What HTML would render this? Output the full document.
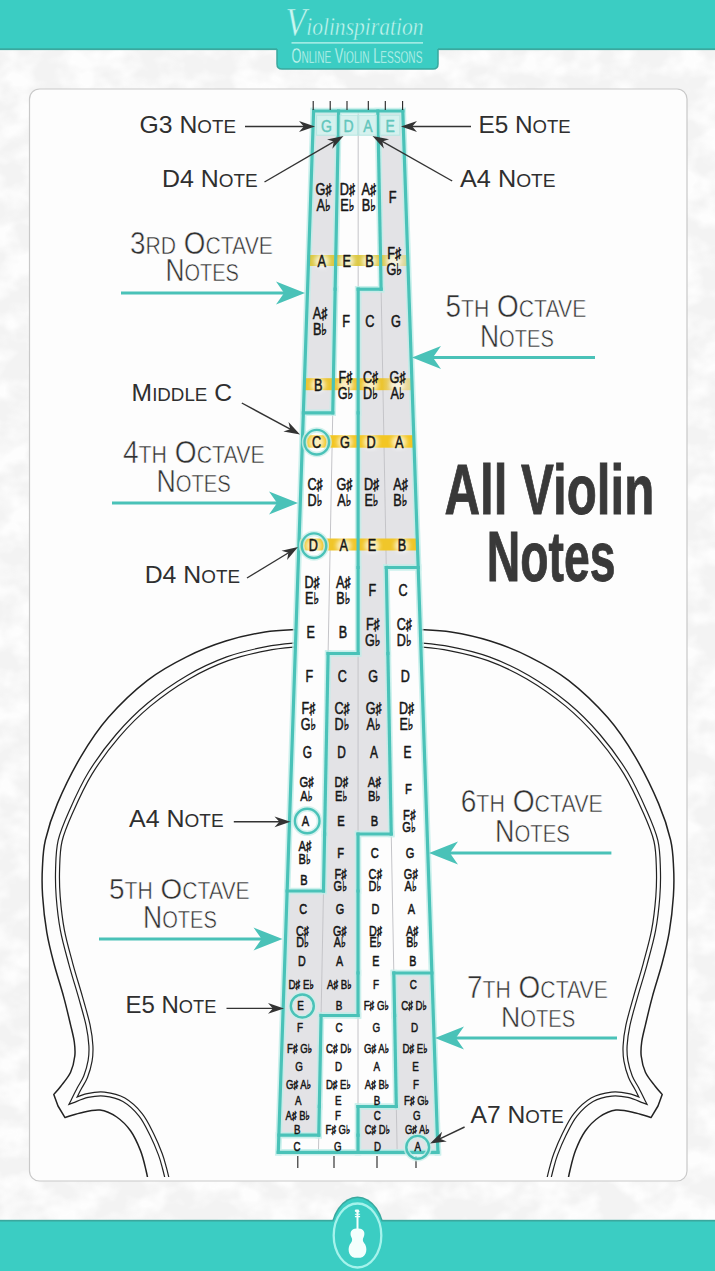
<!DOCTYPE html><html><head><meta charset="utf-8"><title>All Violin Notes</title><style>html,body{margin:0;padding:0;background:#f1f1f1}svg{display:block}</style></head><body><svg width="715" height="1271" viewBox="0 0 715 1271" font-family="'Liberation Sans', 'DejaVu Sans', sans-serif">
<defs><filter id="soft" x="-5%" y="-5%" width="110%" height="110%"><feGaussianBlur stdDeviation="0.45"/></filter><filter id="blur3" x="-20%" y="-20%" width="140%" height="140%"><feGaussianBlur stdDeviation="2.2"/></filter></defs>
<defs><clipPath id="cardclip"><rect x="30" y="89" width="655" height="1088"/></clipPath></defs>
<rect width="715" height="1271" fill="#f3f3f3"/>
<filter id="bgp" x="0" y="0" width="100%" height="100%"><feTurbulence type="fractalNoise" baseFrequency="0.03 0.04" numOctaves="3" seed="7"/><feColorMatrix values="0 0 0 0 1  0 0 0 0 1  0 0 0 0 1  0 0 0 3.0 -1.15"/></filter>
<rect width="715" height="1271" filter="url(#bgp)" opacity="0.9"/>
<rect x="29.5" y="89" width="657.5" height="1092" rx="10" ry="10" fill="#fdfdfd" stroke="#c9c9c9" stroke-width="1.2"/>
<rect x="0" y="0" width="715" height="49.8" fill="#3bcdc3"/>
<rect x="0" y="48.3" width="715" height="1.8" fill="#3aa89e"/>
<path d="M277 40 H438 V64 Q438 69 433 69 H282 Q277 69 277 64 Z" fill="#3bcdc3"/>
<path d="M277 49 V64 Q277 69 282 69 H433 Q438 69 438 64 V49" fill="none" stroke="#3aa89e" stroke-width="1.5"/>
<text transform="translate(285.5,35.3) scale(0.8451,1)" font-family="'Liberation Serif', 'DejaVu Serif', serif" font-style="italic" fill="#c9f7f1" stroke="#3bcdc3" stroke-width="0.5"><tspan font-size="40">V</tspan><tspan font-size="25.5">iolinspiration</tspan></text>
<rect x="291.5" y="42.3" width="131.5" height="1.2" fill="#c9f7f1"/>
<text transform="translate(291.5,62.6) scale(0.6020,1)" fill="#c9f7f1" stroke="#3bcdc3" stroke-width="0.35"><tspan font-size="21.16">O</tspan><tspan font-size="16.81">NLINE</tspan><tspan font-size="21.16"> V</tspan><tspan font-size="16.81">IOLIN</tspan><tspan font-size="21.16"> L</tspan><tspan font-size="16.81">ESSONS</tspan></text>
<ellipse cx="357.5" cy="1236" rx="27.5" ry="39.5" fill="#3aa89e"/>
<rect x="0" y="1220.6" width="715" height="51" fill="#3bcdc3"/>
<rect x="0" y="1219.8" width="715" height="1.7" fill="#3aa89e"/>
<ellipse cx="357.5" cy="1236" rx="26" ry="38" fill="#3bcdc3"/>
<ellipse cx="357.5" cy="1235.5" rx="23.8" ry="32" fill="none" stroke="#a5f3ec" stroke-width="2.3"/>
<path d="M356.5 1209.5 Q354.3 1209.0 354.9 1211.6 L356.5 1212.4 L356.5 1228.5 C351.0 1228.5 349.5 1233.0 351.3 1237.0 C352.5 1239.0 352.5 1241.0 350.9 1243.0 C347.0 1247.5 348.0 1256.5 354.5 1257.8 L360.5 1257.8 C367.0 1256.5 368.0 1247.5 364.1 1243.0 C362.5 1241.0 362.5 1239.0 363.7 1237.0 C365.5 1233.0 364.0 1228.5 358.5 1228.5 L358.5 1212.4 L359.7 1211.8 L358.5 1209.5 Z" fill="#f4fffd"/>
<path d="M354.9 1214.2 h5.2 M354.9 1216.6 h5.2" stroke="#f4fffd" stroke-width="1.1"/>
<g clip-path="url(#cardclip)">
<path d="M297.0 629.4 C291.7 629.8 276.9 630.1 265.0 632.0 C253.1 633.9 238.9 636.9 225.8 641.0 C212.7 645.1 199.7 650.2 186.6 656.8 C173.5 663.3 160.6 670.2 147.5 680.3 C134.4 690.4 119.4 704.8 108.3 717.5 C97.2 730.2 89.4 742.2 80.9 756.6 C72.4 771.0 63.3 789.7 57.4 803.6 C51.5 817.5 47.9 829.3 45.4 840.0 C42.9 850.7 42.9 858.7 42.4 868.0 C41.9 877.3 41.9 885.3 42.6 896.0 C43.3 906.7 44.9 921.1 46.8 932.3 C48.7 943.5 51.0 952.3 53.8 963.0 C56.6 973.7 60.8 986.3 63.6 996.6 C66.4 1006.9 68.7 1017.0 70.5 1024.6 C72.3 1032.2 73.6 1036.8 74.3 1042.0 C75.0 1047.2 75.4 1051.0 74.8 1056.0 C74.2 1061.0 72.9 1067.2 70.6 1072.3 C68.3 1077.3 63.6 1082.6 60.8 1086.3 C58.0 1090.0 55.0 1093.1 53.8 1094.5 L58.0 1106.0 L65.0 1117.6 L65.0 1117.6 C67.5 1116.8 74.5 1114.2 80.3 1112.9 C86.1 1111.6 93.9 1109.3 100.0 1110.0 C106.1 1110.7 111.6 1113.5 116.7 1117.0 C121.8 1120.5 126.7 1125.4 130.7 1131.0 C134.7 1136.6 137.9 1144.1 140.5 1150.6 C143.1 1157.1 144.8 1165.3 146.0 1170.2 C147.2 1175.1 147.7 1178.4 148.0 1180.0" fill="none" stroke="#222" stroke-width="1.5" stroke-linejoin="round"/><g transform="translate(1.6,0.8)"><path d="M297.0 643.9 C291.7 644.5 276.9 645.4 265.0 647.8 C253.1 650.1 238.9 653.2 225.8 658.0 C212.7 662.8 199.7 668.8 186.6 676.4 C173.5 684.0 159.3 694.0 147.5 703.8 C135.7 713.6 125.8 723.6 116.0 735.0 C106.2 746.4 96.5 759.6 88.7 772.3 C80.9 785.0 74.2 800.1 69.2 811.4 C64.2 822.7 60.7 830.6 58.5 840.0 C56.3 849.4 56.3 858.7 56.0 868.0 C55.7 877.3 55.8 885.8 56.6 896.0 C57.4 906.2 58.7 918.3 60.8 929.5 C62.9 940.7 66.2 951.8 69.2 963.0 C72.2 974.2 76.1 986.3 79.0 996.6 C81.9 1006.9 84.8 1016.5 86.5 1024.6 C88.2 1032.7 89.0 1039.1 89.3 1045.0 C89.6 1050.9 89.4 1054.8 88.5 1060.0 C87.6 1065.2 85.8 1071.4 84.0 1076.0 C82.2 1080.6 79.7 1083.7 77.6 1087.7 C75.5 1091.7 72.4 1098.0 71.4 1100.0 L71.4 1100.0 C73.8 1099.1 80.8 1095.8 86.0 1094.7 C91.2 1093.6 96.7 1092.6 102.7 1093.3 C108.8 1094.0 116.2 1095.5 122.3 1099.0 C128.3 1102.5 134.3 1108.2 139.0 1114.0 C143.7 1119.8 147.0 1127.2 150.3 1133.8 C153.6 1140.4 156.6 1147.8 158.7 1153.4 C160.8 1159.0 161.7 1163.0 162.9 1167.4 C164.1 1171.8 165.5 1177.9 166.0 1180.0" fill="none" stroke="#222" stroke-width="5.2" stroke-linejoin="miter" stroke-miterlimit="8"/><path d="M297.0 643.9 C291.7 644.5 276.9 645.4 265.0 647.8 C253.1 650.1 238.9 653.2 225.8 658.0 C212.7 662.8 199.7 668.8 186.6 676.4 C173.5 684.0 159.3 694.0 147.5 703.8 C135.7 713.6 125.8 723.6 116.0 735.0 C106.2 746.4 96.5 759.6 88.7 772.3 C80.9 785.0 74.2 800.1 69.2 811.4 C64.2 822.7 60.7 830.6 58.5 840.0 C56.3 849.4 56.3 858.7 56.0 868.0 C55.7 877.3 55.8 885.8 56.6 896.0 C57.4 906.2 58.7 918.3 60.8 929.5 C62.9 940.7 66.2 951.8 69.2 963.0 C72.2 974.2 76.1 986.3 79.0 996.6 C81.9 1006.9 84.8 1016.5 86.5 1024.6 C88.2 1032.7 89.0 1039.1 89.3 1045.0 C89.6 1050.9 89.4 1054.8 88.5 1060.0 C87.6 1065.2 85.8 1071.4 84.0 1076.0 C82.2 1080.6 79.7 1083.7 77.6 1087.7 C75.5 1091.7 72.4 1098.0 71.4 1100.0 L71.4 1100.0 C73.8 1099.1 80.8 1095.8 86.0 1094.7 C91.2 1093.6 96.7 1092.6 102.7 1093.3 C108.8 1094.0 116.2 1095.5 122.3 1099.0 C128.3 1102.5 134.3 1108.2 139.0 1114.0 C143.7 1119.8 147.0 1127.2 150.3 1133.8 C153.6 1140.4 156.6 1147.8 158.7 1153.4 C160.8 1159.0 161.7 1163.0 162.9 1167.4 C164.1 1171.8 165.5 1177.9 166.0 1180.0" fill="none" stroke="#fdfdfd" stroke-width="2.8" stroke-linejoin="miter" stroke-miterlimit="8"/></g>
<path d="M419.0 629.4 C424.3 629.8 439.1 630.1 451.0 632.0 C462.9 633.9 477.1 636.9 490.2 641.0 C503.3 645.1 516.4 650.2 529.4 656.8 C542.4 663.3 555.5 670.2 568.5 680.3 C581.5 690.4 596.6 704.8 607.7 717.5 C618.8 730.2 626.6 742.2 635.1 756.6 C643.6 771.0 652.7 789.7 658.6 803.6 C664.5 817.5 668.1 829.3 670.6 840.0 C673.1 850.7 673.1 858.7 673.6 868.0 C674.1 877.3 674.1 885.3 673.4 896.0 C672.7 906.7 671.1 921.1 669.2 932.3 C667.3 943.5 665.0 952.3 662.2 963.0 C659.4 973.7 655.2 986.3 652.4 996.6 C649.6 1006.9 647.3 1017.0 645.5 1024.6 C643.7 1032.2 642.4 1036.8 641.7 1042.0 C641.0 1047.2 640.6 1051.0 641.2 1056.0 C641.8 1061.0 643.1 1067.2 645.4 1072.3 C647.7 1077.3 652.4 1082.6 655.2 1086.3 C658.0 1090.0 661.0 1093.1 662.2 1094.5 L658.0 1106.0 L651.0 1117.6 L651.0 1117.6 C648.5 1116.8 641.5 1114.2 635.7 1112.9 C629.9 1111.6 622.1 1109.3 616.0 1110.0 C609.9 1110.7 604.4 1113.5 599.3 1117.0 C594.2 1120.5 589.3 1125.4 585.3 1131.0 C581.3 1136.6 578.0 1144.1 575.5 1150.6 C573.0 1157.1 571.2 1165.3 570.0 1170.2 C568.8 1175.1 568.3 1178.4 568.0 1180.0" fill="none" stroke="#222" stroke-width="1.5" stroke-linejoin="round"/><g transform="translate(-1.6,0.8)"><path d="M419.0 643.9 C424.3 644.5 439.1 645.4 451.0 647.8 C462.9 650.1 477.1 653.2 490.2 658.0 C503.3 662.8 516.4 668.8 529.4 676.4 C542.4 684.0 556.7 694.0 568.5 703.8 C580.3 713.6 590.2 723.6 600.0 735.0 C609.8 746.4 619.5 759.6 627.3 772.3 C635.1 785.0 641.8 800.1 646.8 811.4 C651.8 822.7 655.3 830.6 657.5 840.0 C659.7 849.4 659.7 858.7 660.0 868.0 C660.3 877.3 660.2 885.8 659.4 896.0 C658.6 906.2 657.3 918.3 655.2 929.5 C653.1 940.7 649.8 951.8 646.8 963.0 C643.8 974.2 639.9 986.3 637.0 996.6 C634.1 1006.9 631.2 1016.5 629.5 1024.6 C627.8 1032.7 627.0 1039.1 626.7 1045.0 C626.4 1050.9 626.6 1054.8 627.5 1060.0 C628.4 1065.2 630.2 1071.4 632.0 1076.0 C633.8 1080.6 636.3 1083.7 638.4 1087.7 C640.5 1091.7 643.6 1098.0 644.6 1100.0 L644.6 1100.0 C642.2 1099.1 635.2 1095.8 630.0 1094.7 C624.8 1093.6 619.3 1092.6 613.3 1093.3 C607.2 1094.0 599.8 1095.5 593.7 1099.0 C587.7 1102.5 581.7 1108.2 577.0 1114.0 C572.3 1119.8 569.0 1127.2 565.7 1133.8 C562.4 1140.4 559.4 1147.8 557.3 1153.4 C555.2 1159.0 554.3 1163.0 553.1 1167.4 C551.9 1171.8 550.5 1177.9 550.0 1180.0" fill="none" stroke="#222" stroke-width="5.2" stroke-linejoin="miter" stroke-miterlimit="8"/><path d="M419.0 643.9 C424.3 644.5 439.1 645.4 451.0 647.8 C462.9 650.1 477.1 653.2 490.2 658.0 C503.3 662.8 516.4 668.8 529.4 676.4 C542.4 684.0 556.7 694.0 568.5 703.8 C580.3 713.6 590.2 723.6 600.0 735.0 C609.8 746.4 619.5 759.6 627.3 772.3 C635.1 785.0 641.8 800.1 646.8 811.4 C651.8 822.7 655.3 830.6 657.5 840.0 C659.7 849.4 659.7 858.7 660.0 868.0 C660.3 877.3 660.2 885.8 659.4 896.0 C658.6 906.2 657.3 918.3 655.2 929.5 C653.1 940.7 649.8 951.8 646.8 963.0 C643.8 974.2 639.9 986.3 637.0 996.6 C634.1 1006.9 631.2 1016.5 629.5 1024.6 C627.8 1032.7 627.0 1039.1 626.7 1045.0 C626.4 1050.9 626.6 1054.8 627.5 1060.0 C628.4 1065.2 630.2 1071.4 632.0 1076.0 C633.8 1080.6 636.3 1083.7 638.4 1087.7 C640.5 1091.7 643.6 1098.0 644.6 1100.0 L644.6 1100.0 C642.2 1099.1 635.2 1095.8 630.0 1094.7 C624.8 1093.6 619.3 1092.6 613.3 1093.3 C607.2 1094.0 599.8 1095.5 593.7 1099.0 C587.7 1102.5 581.7 1108.2 577.0 1114.0 C572.3 1119.8 569.0 1127.2 565.7 1133.8 C562.4 1140.4 559.4 1147.8 557.3 1153.4 C555.2 1159.0 554.3 1163.0 553.1 1167.4 C551.9 1171.8 550.5 1177.9 550.0 1180.0" fill="none" stroke="#fdfdfd" stroke-width="2.8" stroke-linejoin="miter" stroke-miterlimit="8"/></g>
</g>
<g><polygon points="313.60,111.00 338.60,111.00 332.76,412.80 303.36,412.80" fill="#e3e3e6"/><polygon points="303.36,412.80 332.76,412.80 323.50,891.00 287.14,891.00" fill="#fdfdfd"/><polygon points="338.60,111.00 358.20,111.00 358.10,653.50 328.10,653.50" fill="#fdfdfd"/><polygon points="358.20,111.00 377.80,111.00 381.11,289.20 358.17,289.20" fill="#fdfdfd"/><polygon points="287.14,891.00 323.50,891.00 318.77,1135.20 278.85,1135.20" fill="#e3e3e6"/><polygon points="328.10,653.50 358.10,653.50 358.03,1015.50 321.09,1015.50" fill="#e3e3e6"/><polygon points="358.17,289.20 381.11,289.20 391.24,834.00 358.06,834.00" fill="#e3e3e6"/><polygon points="377.80,111.00 402.80,111.00 418.20,567.50 386.29,567.50" fill="#e3e3e6"/><polygon points="278.85,1135.20 318.77,1135.20 318.44,1152.30 278.27,1152.30" fill="#fdfdfd"/><polygon points="321.09,1015.50 358.03,1015.50 358.00,1152.30 318.44,1152.30" fill="#fdfdfd"/><polygon points="358.06,834.00 391.24,834.00 396.31,1106.50 358.01,1106.50" fill="#fdfdfd"/><polygon points="386.29,567.50 418.20,567.50 431.88,973.00 393.83,973.00" fill="#fdfdfd"/><polygon points="358.01,1106.50 396.31,1106.50 397.16,1152.30 358.00,1152.30" fill="#e3e3e6"/><polygon points="393.83,973.00 431.88,973.00 437.93,1152.30 397.16,1152.30" fill="#e3e3e6"/><line x1="338.60" y1="111.0" x2="318.44" y2="1152.3" stroke="#c4c4c8" stroke-width="1"/><line x1="358.20" y1="111.0" x2="358.00" y2="1152.3" stroke="#c4c4c8" stroke-width="1"/><line x1="377.80" y1="111.0" x2="397.16" y2="1152.3" stroke="#c4c4c8" stroke-width="1"/><g stroke="#bfeee9" stroke-width="6.5" stroke-linecap="square" opacity="0.8"><line x1="338.60" y1="111.00" x2="335.15" y2="289.20"/><line x1="335.15" y1="289.20" x2="332.76" y2="412.80"/><line x1="328.10" y1="653.50" x2="324.60" y2="834.00"/><line x1="324.60" y1="834.00" x2="323.50" y2="891.00"/><line x1="321.09" y1="1015.50" x2="319.33" y2="1106.50"/><line x1="319.33" y1="1106.50" x2="318.77" y2="1135.20"/><line x1="358.17" y1="289.20" x2="358.14" y2="412.80"/><line x1="358.14" y1="412.80" x2="358.11" y2="567.50"/><line x1="358.11" y1="567.50" x2="358.10" y2="653.50"/><line x1="358.06" y1="834.00" x2="358.05" y2="891.00"/><line x1="358.05" y1="891.00" x2="358.03" y2="973.00"/><line x1="358.03" y1="973.00" x2="358.03" y2="1015.50"/><line x1="358.01" y1="1106.50" x2="358.00" y2="1135.20"/><line x1="358.00" y1="1135.20" x2="358.00" y2="1152.30"/><line x1="377.80" y1="111.00" x2="381.11" y2="289.20"/><line x1="386.29" y1="567.50" x2="387.89" y2="653.50"/><line x1="387.89" y1="653.50" x2="391.24" y2="834.00"/><line x1="393.83" y1="973.00" x2="394.62" y2="1015.50"/><line x1="394.62" y1="1015.50" x2="396.31" y2="1106.50"/><line x1="313.60" y1="111.00" x2="278.27" y2="1152.30"/><line x1="402.80" y1="111.00" x2="437.93" y2="1152.30"/><line x1="313.60" y1="111.00" x2="402.80" y2="111.00"/><line x1="278.27" y1="1152.30" x2="437.93" y2="1152.30"/><line x1="303.36" y1="412.80" x2="332.76" y2="412.80"/><line x1="287.14" y1="891.00" x2="323.50" y2="891.00"/><line x1="328.10" y1="653.50" x2="358.10" y2="653.50"/><line x1="358.17" y1="289.20" x2="381.11" y2="289.20"/><line x1="278.85" y1="1135.20" x2="318.77" y2="1135.20"/><line x1="321.09" y1="1015.50" x2="358.03" y2="1015.50"/><line x1="358.06" y1="834.00" x2="391.24" y2="834.00"/><line x1="386.29" y1="567.50" x2="418.20" y2="567.50"/><line x1="358.01" y1="1106.50" x2="396.31" y2="1106.50"/><line x1="393.83" y1="973.00" x2="431.88" y2="973.00"/></g><linearGradient id="bg2" x1="0" x2="1" y1="0" y2="0"><stop offset="0" stop-color="#dcc843"/><stop offset="0.72" stop-color="#dcc843"/><stop offset="0.8" stop-color="#dcc843" stop-opacity="0.55"/><stop offset="1" stop-color="#dcc843" stop-opacity="0.45"/></linearGradient><rect x="307.5" y="255.0" width="101.3" height="11" fill="url(#bg2)"/><linearGradient id="bg4" x1="0" x2="1" y1="0" y2="0"><stop offset="0" stop-color="#ecc531"/><stop offset="0.72" stop-color="#ecc531"/><stop offset="0.8" stop-color="#ecc531" stop-opacity="0.55"/><stop offset="1" stop-color="#ecc531" stop-opacity="0.45"/></linearGradient><rect x="303.3" y="378.2" width="109.7" height="12" fill="url(#bg4)"/><rect x="301.4" y="435.2" width="113.6" height="12.5" fill="#f3c623"/><rect x="297.9" y="538.5" width="120.5" height="12" fill="#f0c62a"/><g stroke="#4ac2b8" stroke-width="3.2" stroke-linecap="square" opacity="1"><line x1="338.60" y1="111.00" x2="335.15" y2="289.20"/><line x1="335.15" y1="289.20" x2="332.76" y2="412.80"/><line x1="328.10" y1="653.50" x2="324.60" y2="834.00"/><line x1="324.60" y1="834.00" x2="323.50" y2="891.00"/><line x1="321.09" y1="1015.50" x2="319.33" y2="1106.50"/><line x1="319.33" y1="1106.50" x2="318.77" y2="1135.20"/><line x1="358.17" y1="289.20" x2="358.14" y2="412.80"/><line x1="358.14" y1="412.80" x2="358.11" y2="567.50"/><line x1="358.11" y1="567.50" x2="358.10" y2="653.50"/><line x1="358.06" y1="834.00" x2="358.05" y2="891.00"/><line x1="358.05" y1="891.00" x2="358.03" y2="973.00"/><line x1="358.03" y1="973.00" x2="358.03" y2="1015.50"/><line x1="358.01" y1="1106.50" x2="358.00" y2="1135.20"/><line x1="358.00" y1="1135.20" x2="358.00" y2="1152.30"/><line x1="377.80" y1="111.00" x2="381.11" y2="289.20"/><line x1="386.29" y1="567.50" x2="387.89" y2="653.50"/><line x1="387.89" y1="653.50" x2="391.24" y2="834.00"/><line x1="393.83" y1="973.00" x2="394.62" y2="1015.50"/><line x1="394.62" y1="1015.50" x2="396.31" y2="1106.50"/><line x1="313.60" y1="111.00" x2="278.27" y2="1152.30"/><line x1="402.80" y1="111.00" x2="437.93" y2="1152.30"/><line x1="313.60" y1="111.00" x2="402.80" y2="111.00"/><line x1="278.27" y1="1152.30" x2="437.93" y2="1152.30"/><line x1="303.36" y1="412.80" x2="332.76" y2="412.80"/><line x1="287.14" y1="891.00" x2="323.50" y2="891.00"/><line x1="328.10" y1="653.50" x2="358.10" y2="653.50"/><line x1="358.17" y1="289.20" x2="381.11" y2="289.20"/><line x1="278.85" y1="1135.20" x2="318.77" y2="1135.20"/><line x1="321.09" y1="1015.50" x2="358.03" y2="1015.50"/><line x1="358.06" y1="834.00" x2="391.24" y2="834.00"/><line x1="386.29" y1="567.50" x2="418.20" y2="567.50"/><line x1="358.01" y1="1106.50" x2="396.31" y2="1106.50"/><line x1="393.83" y1="973.00" x2="431.88" y2="973.00"/></g></g>
<rect x="316.6" y="115.2" width="19.7" height="20" fill="#d5f1ee" stroke="#b5e6e1" stroke-width="1"/>
<rect x="340.1" y="115.2" width="17.5" height="20" fill="#d5f1ee" stroke="#b5e6e1" stroke-width="1"/>
<rect x="358.8" y="115.2" width="17.5" height="20" fill="#d5f1ee" stroke="#b5e6e1" stroke-width="1"/>
<rect x="380.1" y="115.2" width="19.7" height="20" fill="#d5f1ee" stroke="#b5e6e1" stroke-width="1"/>
<line x1="313.2" y1="101" x2="313.2" y2="110" stroke="#222" stroke-width="1.1"/>
<line x1="330.2" y1="101" x2="330.2" y2="110" stroke="#222" stroke-width="1.1"/>
<line x1="347" y1="101" x2="347" y2="110" stroke="#222" stroke-width="1.1"/>
<line x1="368.3" y1="101" x2="368.3" y2="110" stroke="#222" stroke-width="1.1"/>
<line x1="385.3" y1="101" x2="385.3" y2="110" stroke="#222" stroke-width="1.1"/>
<line x1="402.6" y1="101" x2="402.6" y2="110" stroke="#222" stroke-width="1.1"/>
<line x1="297.8" y1="1156" x2="297.8" y2="1168" stroke="#222" stroke-width="1.1"/>
<line x1="334" y1="1156" x2="334" y2="1168" stroke="#222" stroke-width="1.1"/>
<line x1="377" y1="1156" x2="377" y2="1168" stroke="#222" stroke-width="1.1"/>
<line x1="416" y1="1156" x2="416" y2="1168" stroke="#222" stroke-width="1.1"/>
<g><ellipse cx="321.8" cy="261.3" rx="7.5" ry="7" fill="#fff" opacity="0.7" filter="url(#blur3)"/><ellipse cx="318.2" cy="384.9" rx="7.5" ry="7" fill="#fff" opacity="0.7" filter="url(#blur3)"/><ellipse cx="316.5" cy="442.2" rx="7.5" ry="7" fill="#fff" opacity="0.7" filter="url(#blur3)"/><ellipse cx="313.4" cy="545.7" rx="7.5" ry="7" fill="#fff" opacity="0.7" filter="url(#blur3)"/><ellipse cx="346.8" cy="261.3" rx="7.5" ry="7" fill="#fff" opacity="0.7" filter="url(#blur3)"/><ellipse cx="345.5" cy="384.9" rx="7.5" ry="7" fill="#fff" opacity="0.7" filter="url(#blur3)"/><ellipse cx="344.9" cy="442.2" rx="7.5" ry="7" fill="#fff" opacity="0.7" filter="url(#blur3)"/><ellipse cx="343.8" cy="545.7" rx="7.5" ry="7" fill="#fff" opacity="0.7" filter="url(#blur3)"/><ellipse cx="369.4" cy="261.3" rx="7.5" ry="7" fill="#fff" opacity="0.7" filter="url(#blur3)"/><ellipse cx="370.5" cy="384.9" rx="7.5" ry="7" fill="#fff" opacity="0.7" filter="url(#blur3)"/><ellipse cx="371.0" cy="442.2" rx="7.5" ry="7" fill="#fff" opacity="0.7" filter="url(#blur3)"/><ellipse cx="372.0" cy="545.7" rx="7.5" ry="7" fill="#fff" opacity="0.7" filter="url(#blur3)"/><ellipse cx="394.3" cy="261.3" rx="7.5" ry="7" fill="#fff" opacity="0.7" filter="url(#blur3)"/><ellipse cx="397.6" cy="384.9" rx="7.5" ry="7" fill="#fff" opacity="0.7" filter="url(#blur3)"/><ellipse cx="399.1" cy="442.2" rx="7.5" ry="7" fill="#fff" opacity="0.7" filter="url(#blur3)"/><ellipse cx="401.9" cy="545.7" rx="7.5" ry="7" fill="#fff" opacity="0.7" filter="url(#blur3)"/></g>
<g><text transform="translate(326.33,132.20) scale(0.84,1)" text-anchor="middle" font-size="16.67" fill="#62c6bc" stroke="#62c6bc" stroke-width="0.45" stroke-linejoin="round">G</text><text transform="translate(323.64,195.00) scale(0.76,1)" text-anchor="middle" font-size="16.79" fill="#161616" stroke="#161616" stroke-width="0.55" stroke-linejoin="round">G<tspan font-size="16.11">♯</tspan></text><text transform="translate(323.64,211.18) scale(0.76,1)" text-anchor="middle" font-size="16.79" fill="#161616" stroke="#161616" stroke-width="0.55" stroke-linejoin="round">A<tspan font-size="16.11">♭</tspan></text><text transform="translate(321.78,267.08) scale(0.76,1)" text-anchor="middle" font-size="16.76" fill="#161616" stroke="#161616" stroke-width="0.55" stroke-linejoin="round">A</text><text transform="translate(320.02,319.01) scale(0.76,1)" text-anchor="middle" font-size="16.73" fill="#161616" stroke="#161616" stroke-width="0.55" stroke-linejoin="round">A<tspan font-size="16.06">♯</tspan></text><text transform="translate(320.02,335.13) scale(0.76,1)" text-anchor="middle" font-size="16.73" fill="#161616" stroke="#161616" stroke-width="0.55" stroke-linejoin="round">B<tspan font-size="16.06">♭</tspan></text><text transform="translate(318.16,390.66) scale(0.76,1)" text-anchor="middle" font-size="16.71" fill="#161616" stroke="#161616" stroke-width="0.55" stroke-linejoin="round">B</text><text transform="translate(316.48,447.95) scale(0.76,1)" text-anchor="middle" font-size="16.68" fill="#161616" stroke="#161616" stroke-width="0.55" stroke-linejoin="round">C</text><text transform="translate(314.97,490.33) scale(0.76,1)" text-anchor="middle" font-size="16.65" fill="#161616" stroke="#161616" stroke-width="0.55" stroke-linejoin="round">C<tspan font-size="15.99">♯</tspan></text><text transform="translate(314.97,506.36) scale(0.76,1)" text-anchor="middle" font-size="16.65" fill="#161616" stroke="#161616" stroke-width="0.55" stroke-linejoin="round">D<tspan font-size="15.99">♭</tspan></text><text transform="translate(313.40,551.44) scale(0.76,1)" text-anchor="middle" font-size="16.63" fill="#161616" stroke="#161616" stroke-width="0.55" stroke-linejoin="round">D</text><text transform="translate(312.05,588.24) scale(0.76,1)" text-anchor="middle" font-size="16.60" fill="#161616" stroke="#161616" stroke-width="0.55" stroke-linejoin="round">D<tspan font-size="15.94">♯</tspan></text><text transform="translate(312.05,604.22) scale(0.76,1)" text-anchor="middle" font-size="16.60" fill="#161616" stroke="#161616" stroke-width="0.55" stroke-linejoin="round">E<tspan font-size="15.94">♭</tspan></text><text transform="translate(310.77,638.22) scale(0.76,1)" text-anchor="middle" font-size="16.57" fill="#161616" stroke="#161616" stroke-width="0.55" stroke-linejoin="round">E</text><text transform="translate(309.45,681.51) scale(0.76,1)" text-anchor="middle" font-size="16.55" fill="#161616" stroke="#161616" stroke-width="0.55" stroke-linejoin="round">F</text><text transform="translate(308.38,713.95) scale(0.76,1)" text-anchor="middle" font-size="16.52" fill="#161616" stroke="#161616" stroke-width="0.55" stroke-linejoin="round">F<tspan font-size="15.86">♯</tspan></text><text transform="translate(308.38,729.85) scale(0.76,1)" text-anchor="middle" font-size="16.52" fill="#161616" stroke="#161616" stroke-width="0.55" stroke-linejoin="round">G<tspan font-size="15.86">♭</tspan></text><text transform="translate(307.40,758.10) scale(0.76,1)" text-anchor="middle" font-size="15.65" fill="#161616" stroke="#161616" stroke-width="0.55" stroke-linejoin="round">G</text><text transform="translate(306.44,787.00) scale(0.76,1)" text-anchor="middle" font-size="14.78" fill="#161616" stroke="#161616" stroke-width="0.55" stroke-linejoin="round">G<tspan font-size="14.19">♯</tspan></text><text transform="translate(306.44,800.80) scale(0.76,1)" text-anchor="middle" font-size="14.78" fill="#161616" stroke="#161616" stroke-width="0.55" stroke-linejoin="round">A<tspan font-size="14.19">♭</tspan></text><text transform="translate(305.58,826.07) scale(0.76,1)" text-anchor="middle" font-size="14.69" fill="#161616" stroke="#161616" stroke-width="0.55" stroke-linejoin="round">A</text><text transform="translate(304.75,851.26) scale(0.76,1)" text-anchor="middle" font-size="14.59" fill="#161616" stroke="#161616" stroke-width="0.55" stroke-linejoin="round">A<tspan font-size="14.01">♯</tspan></text><text transform="translate(304.75,863.81) scale(0.76,1)" text-anchor="middle" font-size="14.59" fill="#161616" stroke="#161616" stroke-width="0.55" stroke-linejoin="round">B<tspan font-size="14.01">♭</tspan></text><text transform="translate(304.00,885.30) scale(0.76,1)" text-anchor="middle" font-size="14.49" fill="#161616" stroke="#161616" stroke-width="0.55" stroke-linejoin="round">B</text><text transform="translate(303.24,913.95) scale(0.76,1)" text-anchor="middle" font-size="14.35" fill="#161616" stroke="#161616" stroke-width="0.55" stroke-linejoin="round">C</text><text transform="translate(302.50,935.75) scale(0.76,1)" text-anchor="middle" font-size="14.20" fill="#161616" stroke="#161616" stroke-width="0.55" stroke-linejoin="round">C<tspan font-size="13.63">♯</tspan></text><text transform="translate(302.50,947.45) scale(0.76,1)" text-anchor="middle" font-size="14.20" fill="#161616" stroke="#161616" stroke-width="0.55" stroke-linejoin="round">D<tspan font-size="13.63">♭</tspan></text><text transform="translate(301.84,966.35) scale(0.76,1)" text-anchor="middle" font-size="14.06" fill="#161616" stroke="#161616" stroke-width="0.55" stroke-linejoin="round">D</text><text transform="translate(301.23,989.00) scale(0.7448,1)" text-anchor="middle" font-size="13.04" fill="#161616" stroke="#161616" stroke-width="0.55" stroke-linejoin="round">D<tspan font-size="12.52">♯</tspan> E<tspan font-size="12.52">♭</tspan></text><text transform="translate(300.66,1010.49) scale(0.76,1)" text-anchor="middle" font-size="13.01" fill="#161616" stroke="#161616" stroke-width="0.55" stroke-linejoin="round">E</text><text transform="translate(300.07,1032.48) scale(0.76,1)" text-anchor="middle" font-size="12.98" fill="#161616" stroke="#161616" stroke-width="0.55" stroke-linejoin="round">F</text><text transform="translate(299.52,1053.27) scale(0.7448,1)" text-anchor="middle" font-size="12.95" fill="#161616" stroke="#161616" stroke-width="0.55" stroke-linejoin="round">F<tspan font-size="12.43">♯</tspan> G<tspan font-size="12.43">♭</tspan></text><text transform="translate(299.03,1071.46) scale(0.76,1)" text-anchor="middle" font-size="12.91" fill="#161616" stroke="#161616" stroke-width="0.55" stroke-linejoin="round">G</text><text transform="translate(298.56,1089.14) scale(0.7448,1)" text-anchor="middle" font-size="12.88" fill="#161616" stroke="#161616" stroke-width="0.55" stroke-linejoin="round">G<tspan font-size="12.37">♯</tspan> A<tspan font-size="12.37">♭</tspan></text><text transform="translate(298.14,1104.83) scale(0.76,1)" text-anchor="middle" font-size="12.85" fill="#161616" stroke="#161616" stroke-width="0.55" stroke-linejoin="round">A</text><text transform="translate(297.74,1119.92) scale(0.7448,1)" text-anchor="middle" font-size="12.82" fill="#161616" stroke="#161616" stroke-width="0.55" stroke-linejoin="round">A<tspan font-size="12.31">♯</tspan> B<tspan font-size="12.31">♭</tspan></text><text transform="translate(297.35,1134.41) scale(0.76,1)" text-anchor="middle" font-size="12.79" fill="#161616" stroke="#161616" stroke-width="0.55" stroke-linejoin="round">B</text><text transform="translate(296.91,1151.10) scale(0.76,1)" text-anchor="middle" font-size="12.75" fill="#161616" stroke="#161616" stroke-width="0.55" stroke-linejoin="round">C</text><text transform="translate(348.56,132.20) scale(0.84,1)" text-anchor="middle" font-size="16.67" fill="#62c6bc" stroke="#62c6bc" stroke-width="0.45" stroke-linejoin="round">D</text><text transform="translate(347.51,195.00) scale(0.76,1)" text-anchor="middle" font-size="16.79" fill="#161616" stroke="#161616" stroke-width="0.55" stroke-linejoin="round">D<tspan font-size="16.11">♯</tspan></text><text transform="translate(347.51,211.18) scale(0.76,1)" text-anchor="middle" font-size="16.79" fill="#161616" stroke="#161616" stroke-width="0.55" stroke-linejoin="round">E<tspan font-size="16.11">♭</tspan></text><text transform="translate(346.83,267.08) scale(0.76,1)" text-anchor="middle" font-size="16.76" fill="#161616" stroke="#161616" stroke-width="0.55" stroke-linejoin="round">E</text><text transform="translate(346.19,327.07) scale(0.76,1)" text-anchor="middle" font-size="16.73" fill="#161616" stroke="#161616" stroke-width="0.55" stroke-linejoin="round">F</text><text transform="translate(345.52,382.62) scale(0.76,1)" text-anchor="middle" font-size="16.71" fill="#161616" stroke="#161616" stroke-width="0.55" stroke-linejoin="round">F<tspan font-size="16.04">♯</tspan></text><text transform="translate(345.52,398.71) scale(0.76,1)" text-anchor="middle" font-size="16.71" fill="#161616" stroke="#161616" stroke-width="0.55" stroke-linejoin="round">G<tspan font-size="16.04">♭</tspan></text><text transform="translate(344.91,447.95) scale(0.76,1)" text-anchor="middle" font-size="16.68" fill="#161616" stroke="#161616" stroke-width="0.55" stroke-linejoin="round">G</text><text transform="translate(344.37,490.33) scale(0.76,1)" text-anchor="middle" font-size="16.65" fill="#161616" stroke="#161616" stroke-width="0.55" stroke-linejoin="round">G<tspan font-size="15.99">♯</tspan></text><text transform="translate(344.37,506.36) scale(0.76,1)" text-anchor="middle" font-size="16.65" fill="#161616" stroke="#161616" stroke-width="0.55" stroke-linejoin="round">A<tspan font-size="15.99">♭</tspan></text><text transform="translate(343.80,551.44) scale(0.76,1)" text-anchor="middle" font-size="16.63" fill="#161616" stroke="#161616" stroke-width="0.55" stroke-linejoin="round">A</text><text transform="translate(343.31,588.24) scale(0.76,1)" text-anchor="middle" font-size="16.60" fill="#161616" stroke="#161616" stroke-width="0.55" stroke-linejoin="round">A<tspan font-size="15.94">♯</tspan></text><text transform="translate(343.31,604.22) scale(0.76,1)" text-anchor="middle" font-size="16.60" fill="#161616" stroke="#161616" stroke-width="0.55" stroke-linejoin="round">B<tspan font-size="15.94">♭</tspan></text><text transform="translate(342.85,638.22) scale(0.76,1)" text-anchor="middle" font-size="16.57" fill="#161616" stroke="#161616" stroke-width="0.55" stroke-linejoin="round">B</text><text transform="translate(342.38,681.51) scale(0.76,1)" text-anchor="middle" font-size="16.55" fill="#161616" stroke="#161616" stroke-width="0.55" stroke-linejoin="round">C</text><text transform="translate(341.98,713.95) scale(0.76,1)" text-anchor="middle" font-size="16.52" fill="#161616" stroke="#161616" stroke-width="0.55" stroke-linejoin="round">C<tspan font-size="15.86">♯</tspan></text><text transform="translate(341.98,729.85) scale(0.76,1)" text-anchor="middle" font-size="16.52" fill="#161616" stroke="#161616" stroke-width="0.55" stroke-linejoin="round">D<tspan font-size="15.86">♭</tspan></text><text transform="translate(341.63,758.10) scale(0.76,1)" text-anchor="middle" font-size="15.65" fill="#161616" stroke="#161616" stroke-width="0.55" stroke-linejoin="round">D</text><text transform="translate(341.27,787.00) scale(0.76,1)" text-anchor="middle" font-size="14.78" fill="#161616" stroke="#161616" stroke-width="0.55" stroke-linejoin="round">D<tspan font-size="14.19">♯</tspan></text><text transform="translate(341.27,800.80) scale(0.76,1)" text-anchor="middle" font-size="14.78" fill="#161616" stroke="#161616" stroke-width="0.55" stroke-linejoin="round">E<tspan font-size="14.19">♭</tspan></text><text transform="translate(340.96,826.07) scale(0.76,1)" text-anchor="middle" font-size="14.69" fill="#161616" stroke="#161616" stroke-width="0.55" stroke-linejoin="round">E</text><text transform="translate(340.65,857.53) scale(0.76,1)" text-anchor="middle" font-size="14.59" fill="#161616" stroke="#161616" stroke-width="0.55" stroke-linejoin="round">F</text><text transform="translate(340.38,879.15) scale(0.76,1)" text-anchor="middle" font-size="14.49" fill="#161616" stroke="#161616" stroke-width="0.55" stroke-linejoin="round">F<tspan font-size="13.91">♯</tspan></text><text transform="translate(340.38,891.45) scale(0.76,1)" text-anchor="middle" font-size="14.49" fill="#161616" stroke="#161616" stroke-width="0.55" stroke-linejoin="round">G<tspan font-size="13.91">♭</tspan></text><text transform="translate(340.10,913.95) scale(0.76,1)" text-anchor="middle" font-size="14.35" fill="#161616" stroke="#161616" stroke-width="0.55" stroke-linejoin="round">G</text><text transform="translate(339.83,935.75) scale(0.76,1)" text-anchor="middle" font-size="14.20" fill="#161616" stroke="#161616" stroke-width="0.55" stroke-linejoin="round">G<tspan font-size="13.63">♯</tspan></text><text transform="translate(339.83,947.45) scale(0.76,1)" text-anchor="middle" font-size="14.20" fill="#161616" stroke="#161616" stroke-width="0.55" stroke-linejoin="round">A<tspan font-size="13.63">♭</tspan></text><text transform="translate(339.59,966.35) scale(0.76,1)" text-anchor="middle" font-size="14.06" fill="#161616" stroke="#161616" stroke-width="0.55" stroke-linejoin="round">A</text><text transform="translate(339.36,989.00) scale(0.7448,1)" text-anchor="middle" font-size="13.04" fill="#161616" stroke="#161616" stroke-width="0.55" stroke-linejoin="round">A<tspan font-size="12.52">♯</tspan> B<tspan font-size="12.52">♭</tspan></text><text transform="translate(339.15,1010.49) scale(0.76,1)" text-anchor="middle" font-size="13.01" fill="#161616" stroke="#161616" stroke-width="0.55" stroke-linejoin="round">B</text><text transform="translate(338.94,1032.48) scale(0.76,1)" text-anchor="middle" font-size="12.98" fill="#161616" stroke="#161616" stroke-width="0.55" stroke-linejoin="round">C</text><text transform="translate(338.73,1053.27) scale(0.7448,1)" text-anchor="middle" font-size="12.95" fill="#161616" stroke="#161616" stroke-width="0.55" stroke-linejoin="round">C<tspan font-size="12.43">♯</tspan> D<tspan font-size="12.43">♭</tspan></text><text transform="translate(338.56,1071.46) scale(0.76,1)" text-anchor="middle" font-size="12.91" fill="#161616" stroke="#161616" stroke-width="0.55" stroke-linejoin="round">D</text><text transform="translate(338.38,1089.14) scale(0.7448,1)" text-anchor="middle" font-size="12.88" fill="#161616" stroke="#161616" stroke-width="0.55" stroke-linejoin="round">D<tspan font-size="12.37">♯</tspan> E<tspan font-size="12.37">♭</tspan></text><text transform="translate(338.23,1104.83) scale(0.76,1)" text-anchor="middle" font-size="12.85" fill="#161616" stroke="#161616" stroke-width="0.55" stroke-linejoin="round">E</text><text transform="translate(338.08,1119.92) scale(0.76,1)" text-anchor="middle" font-size="12.82" fill="#161616" stroke="#161616" stroke-width="0.55" stroke-linejoin="round">F</text><text transform="translate(337.94,1134.41) scale(0.7448,1)" text-anchor="middle" font-size="12.79" fill="#161616" stroke="#161616" stroke-width="0.55" stroke-linejoin="round">F<tspan font-size="12.27">♯</tspan> G<tspan font-size="12.27">♭</tspan></text><text transform="translate(337.78,1151.10) scale(0.76,1)" text-anchor="middle" font-size="12.75" fill="#161616" stroke="#161616" stroke-width="0.55" stroke-linejoin="round">G</text><text transform="translate(367.83,132.20) scale(0.84,1)" text-anchor="middle" font-size="16.67" fill="#62c6bc" stroke="#62c6bc" stroke-width="0.45" stroke-linejoin="round">A</text><text transform="translate(368.79,195.00) scale(0.76,1)" text-anchor="middle" font-size="16.79" fill="#161616" stroke="#161616" stroke-width="0.55" stroke-linejoin="round">A<tspan font-size="16.11">♯</tspan></text><text transform="translate(368.79,211.18) scale(0.76,1)" text-anchor="middle" font-size="16.79" fill="#161616" stroke="#161616" stroke-width="0.55" stroke-linejoin="round">B<tspan font-size="16.11">♭</tspan></text><text transform="translate(369.38,267.08) scale(0.76,1)" text-anchor="middle" font-size="16.76" fill="#161616" stroke="#161616" stroke-width="0.55" stroke-linejoin="round">B</text><text transform="translate(369.93,327.07) scale(0.76,1)" text-anchor="middle" font-size="16.73" fill="#161616" stroke="#161616" stroke-width="0.55" stroke-linejoin="round">C</text><text transform="translate(370.52,382.62) scale(0.76,1)" text-anchor="middle" font-size="16.71" fill="#161616" stroke="#161616" stroke-width="0.55" stroke-linejoin="round">C<tspan font-size="16.04">♯</tspan></text><text transform="translate(370.52,398.71) scale(0.76,1)" text-anchor="middle" font-size="16.71" fill="#161616" stroke="#161616" stroke-width="0.55" stroke-linejoin="round">D<tspan font-size="16.04">♭</tspan></text><text transform="translate(371.05,447.95) scale(0.76,1)" text-anchor="middle" font-size="16.68" fill="#161616" stroke="#161616" stroke-width="0.55" stroke-linejoin="round">D</text><text transform="translate(371.51,490.33) scale(0.76,1)" text-anchor="middle" font-size="16.65" fill="#161616" stroke="#161616" stroke-width="0.55" stroke-linejoin="round">D<tspan font-size="15.99">♯</tspan></text><text transform="translate(371.51,506.36) scale(0.76,1)" text-anchor="middle" font-size="16.65" fill="#161616" stroke="#161616" stroke-width="0.55" stroke-linejoin="round">E<tspan font-size="15.99">♭</tspan></text><text transform="translate(372.00,551.44) scale(0.76,1)" text-anchor="middle" font-size="16.63" fill="#161616" stroke="#161616" stroke-width="0.55" stroke-linejoin="round">E</text><text transform="translate(372.41,596.23) scale(0.76,1)" text-anchor="middle" font-size="16.60" fill="#161616" stroke="#161616" stroke-width="0.55" stroke-linejoin="round">F</text><text transform="translate(372.80,630.24) scale(0.76,1)" text-anchor="middle" font-size="16.57" fill="#161616" stroke="#161616" stroke-width="0.55" stroke-linejoin="round">F<tspan font-size="15.91">♯</tspan></text><text transform="translate(372.80,646.20) scale(0.76,1)" text-anchor="middle" font-size="16.57" fill="#161616" stroke="#161616" stroke-width="0.55" stroke-linejoin="round">G<tspan font-size="15.91">♭</tspan></text><text transform="translate(373.20,681.51) scale(0.76,1)" text-anchor="middle" font-size="16.55" fill="#161616" stroke="#161616" stroke-width="0.55" stroke-linejoin="round">G</text><text transform="translate(373.57,713.95) scale(0.76,1)" text-anchor="middle" font-size="16.52" fill="#161616" stroke="#161616" stroke-width="0.55" stroke-linejoin="round">G<tspan font-size="15.86">♯</tspan></text><text transform="translate(373.57,729.85) scale(0.76,1)" text-anchor="middle" font-size="16.52" fill="#161616" stroke="#161616" stroke-width="0.55" stroke-linejoin="round">A<tspan font-size="15.86">♭</tspan></text><text transform="translate(373.90,758.10) scale(0.76,1)" text-anchor="middle" font-size="15.65" fill="#161616" stroke="#161616" stroke-width="0.55" stroke-linejoin="round">A</text><text transform="translate(374.24,787.00) scale(0.76,1)" text-anchor="middle" font-size="14.78" fill="#161616" stroke="#161616" stroke-width="0.55" stroke-linejoin="round">A<tspan font-size="14.19">♯</tspan></text><text transform="translate(374.24,800.80) scale(0.76,1)" text-anchor="middle" font-size="14.78" fill="#161616" stroke="#161616" stroke-width="0.55" stroke-linejoin="round">B<tspan font-size="14.19">♭</tspan></text><text transform="translate(374.53,826.07) scale(0.76,1)" text-anchor="middle" font-size="14.69" fill="#161616" stroke="#161616" stroke-width="0.55" stroke-linejoin="round">B</text><text transform="translate(374.82,857.53) scale(0.76,1)" text-anchor="middle" font-size="14.59" fill="#161616" stroke="#161616" stroke-width="0.55" stroke-linejoin="round">C</text><text transform="translate(375.08,879.15) scale(0.76,1)" text-anchor="middle" font-size="14.49" fill="#161616" stroke="#161616" stroke-width="0.55" stroke-linejoin="round">C<tspan font-size="13.91">♯</tspan></text><text transform="translate(375.08,891.45) scale(0.76,1)" text-anchor="middle" font-size="14.49" fill="#161616" stroke="#161616" stroke-width="0.55" stroke-linejoin="round">D<tspan font-size="13.91">♭</tspan></text><text transform="translate(375.34,913.95) scale(0.76,1)" text-anchor="middle" font-size="14.35" fill="#161616" stroke="#161616" stroke-width="0.55" stroke-linejoin="round">D</text><text transform="translate(375.60,935.75) scale(0.76,1)" text-anchor="middle" font-size="14.20" fill="#161616" stroke="#161616" stroke-width="0.55" stroke-linejoin="round">D<tspan font-size="13.63">♯</tspan></text><text transform="translate(375.60,947.45) scale(0.76,1)" text-anchor="middle" font-size="14.20" fill="#161616" stroke="#161616" stroke-width="0.55" stroke-linejoin="round">E<tspan font-size="13.63">♭</tspan></text><text transform="translate(375.82,966.35) scale(0.76,1)" text-anchor="middle" font-size="14.06" fill="#161616" stroke="#161616" stroke-width="0.55" stroke-linejoin="round">E</text><text transform="translate(376.04,989.00) scale(0.76,1)" text-anchor="middle" font-size="13.04" fill="#161616" stroke="#161616" stroke-width="0.55" stroke-linejoin="round">F</text><text transform="translate(376.23,1010.49) scale(0.7448,1)" text-anchor="middle" font-size="13.01" fill="#161616" stroke="#161616" stroke-width="0.55" stroke-linejoin="round">F<tspan font-size="12.49">♯</tspan> G<tspan font-size="12.49">♭</tspan></text><text transform="translate(376.44,1032.48) scale(0.76,1)" text-anchor="middle" font-size="12.98" fill="#161616" stroke="#161616" stroke-width="0.55" stroke-linejoin="round">G</text><text transform="translate(376.63,1053.27) scale(0.7448,1)" text-anchor="middle" font-size="12.95" fill="#161616" stroke="#161616" stroke-width="0.55" stroke-linejoin="round">G<tspan font-size="12.43">♯</tspan> A<tspan font-size="12.43">♭</tspan></text><text transform="translate(376.80,1071.46) scale(0.76,1)" text-anchor="middle" font-size="12.91" fill="#161616" stroke="#161616" stroke-width="0.55" stroke-linejoin="round">A</text><text transform="translate(376.96,1089.14) scale(0.7448,1)" text-anchor="middle" font-size="12.88" fill="#161616" stroke="#161616" stroke-width="0.55" stroke-linejoin="round">A<tspan font-size="12.37">♯</tspan> B<tspan font-size="12.37">♭</tspan></text><text transform="translate(377.10,1104.83) scale(0.76,1)" text-anchor="middle" font-size="12.85" fill="#161616" stroke="#161616" stroke-width="0.55" stroke-linejoin="round">B</text><text transform="translate(377.24,1119.92) scale(0.76,1)" text-anchor="middle" font-size="12.82" fill="#161616" stroke="#161616" stroke-width="0.55" stroke-linejoin="round">C</text><text transform="translate(377.37,1134.41) scale(0.7448,1)" text-anchor="middle" font-size="12.79" fill="#161616" stroke="#161616" stroke-width="0.55" stroke-linejoin="round">C<tspan font-size="12.27">♯</tspan> D<tspan font-size="12.27">♭</tspan></text><text transform="translate(377.53,1151.10) scale(0.76,1)" text-anchor="middle" font-size="12.75" fill="#161616" stroke="#161616" stroke-width="0.55" stroke-linejoin="round">D</text><text transform="translate(390.07,132.20) scale(0.84,1)" text-anchor="middle" font-size="16.67" fill="#62c6bc" stroke="#62c6bc" stroke-width="0.45" stroke-linejoin="round">E</text><text transform="translate(392.59,203.09) scale(0.76,1)" text-anchor="middle" font-size="16.79" fill="#161616" stroke="#161616" stroke-width="0.55" stroke-linejoin="round">F</text><text transform="translate(394.29,259.01) scale(0.76,1)" text-anchor="middle" font-size="16.76" fill="#161616" stroke="#161616" stroke-width="0.55" stroke-linejoin="round">F<tspan font-size="16.09">♯</tspan></text><text transform="translate(394.29,275.15) scale(0.76,1)" text-anchor="middle" font-size="16.76" fill="#161616" stroke="#161616" stroke-width="0.55" stroke-linejoin="round">G<tspan font-size="16.09">♭</tspan></text><text transform="translate(395.89,327.07) scale(0.76,1)" text-anchor="middle" font-size="16.73" fill="#161616" stroke="#161616" stroke-width="0.55" stroke-linejoin="round">G</text><text transform="translate(397.59,382.62) scale(0.76,1)" text-anchor="middle" font-size="16.71" fill="#161616" stroke="#161616" stroke-width="0.55" stroke-linejoin="round">G<tspan font-size="16.04">♯</tspan></text><text transform="translate(397.59,398.71) scale(0.76,1)" text-anchor="middle" font-size="16.71" fill="#161616" stroke="#161616" stroke-width="0.55" stroke-linejoin="round">A<tspan font-size="16.04">♭</tspan></text><text transform="translate(399.11,447.95) scale(0.76,1)" text-anchor="middle" font-size="16.68" fill="#161616" stroke="#161616" stroke-width="0.55" stroke-linejoin="round">A</text><text transform="translate(400.46,490.33) scale(0.76,1)" text-anchor="middle" font-size="16.65" fill="#161616" stroke="#161616" stroke-width="0.55" stroke-linejoin="round">A<tspan font-size="15.99">♯</tspan></text><text transform="translate(400.46,506.36) scale(0.76,1)" text-anchor="middle" font-size="16.65" fill="#161616" stroke="#161616" stroke-width="0.55" stroke-linejoin="round">B<tspan font-size="15.99">♭</tspan></text><text transform="translate(401.88,551.44) scale(0.76,1)" text-anchor="middle" font-size="16.63" fill="#161616" stroke="#161616" stroke-width="0.55" stroke-linejoin="round">B</text><text transform="translate(403.08,596.23) scale(0.76,1)" text-anchor="middle" font-size="16.60" fill="#161616" stroke="#161616" stroke-width="0.55" stroke-linejoin="round">C</text><text transform="translate(404.21,630.24) scale(0.76,1)" text-anchor="middle" font-size="16.57" fill="#161616" stroke="#161616" stroke-width="0.55" stroke-linejoin="round">C<tspan font-size="15.91">♯</tspan></text><text transform="translate(404.21,646.20) scale(0.76,1)" text-anchor="middle" font-size="16.57" fill="#161616" stroke="#161616" stroke-width="0.55" stroke-linejoin="round">D<tspan font-size="15.91">♭</tspan></text><text transform="translate(405.38,681.51) scale(0.76,1)" text-anchor="middle" font-size="16.55" fill="#161616" stroke="#161616" stroke-width="0.55" stroke-linejoin="round">D</text><text transform="translate(406.43,713.95) scale(0.76,1)" text-anchor="middle" font-size="16.52" fill="#161616" stroke="#161616" stroke-width="0.55" stroke-linejoin="round">D<tspan font-size="15.86">♯</tspan></text><text transform="translate(406.43,729.85) scale(0.76,1)" text-anchor="middle" font-size="16.52" fill="#161616" stroke="#161616" stroke-width="0.55" stroke-linejoin="round">E<tspan font-size="15.86">♭</tspan></text><text transform="translate(407.39,758.10) scale(0.76,1)" text-anchor="middle" font-size="15.65" fill="#161616" stroke="#161616" stroke-width="0.55" stroke-linejoin="round">E</text><text transform="translate(408.33,793.90) scale(0.76,1)" text-anchor="middle" font-size="14.78" fill="#161616" stroke="#161616" stroke-width="0.55" stroke-linejoin="round">F</text><text transform="translate(409.17,819.67) scale(0.76,1)" text-anchor="middle" font-size="14.69" fill="#161616" stroke="#161616" stroke-width="0.55" stroke-linejoin="round">F<tspan font-size="14.10">♯</tspan></text><text transform="translate(409.17,832.47) scale(0.76,1)" text-anchor="middle" font-size="14.69" fill="#161616" stroke="#161616" stroke-width="0.55" stroke-linejoin="round">G<tspan font-size="14.10">♭</tspan></text><text transform="translate(410.00,857.53) scale(0.76,1)" text-anchor="middle" font-size="14.59" fill="#161616" stroke="#161616" stroke-width="0.55" stroke-linejoin="round">G</text><text transform="translate(410.73,879.15) scale(0.76,1)" text-anchor="middle" font-size="14.49" fill="#161616" stroke="#161616" stroke-width="0.55" stroke-linejoin="round">G<tspan font-size="13.91">♯</tspan></text><text transform="translate(410.73,891.45) scale(0.76,1)" text-anchor="middle" font-size="14.49" fill="#161616" stroke="#161616" stroke-width="0.55" stroke-linejoin="round">A<tspan font-size="13.91">♭</tspan></text><text transform="translate(411.48,913.95) scale(0.76,1)" text-anchor="middle" font-size="14.35" fill="#161616" stroke="#161616" stroke-width="0.55" stroke-linejoin="round">A</text><text transform="translate(412.20,935.75) scale(0.76,1)" text-anchor="middle" font-size="14.20" fill="#161616" stroke="#161616" stroke-width="0.55" stroke-linejoin="round">A<tspan font-size="13.63">♯</tspan></text><text transform="translate(412.20,947.45) scale(0.76,1)" text-anchor="middle" font-size="14.20" fill="#161616" stroke="#161616" stroke-width="0.55" stroke-linejoin="round">B<tspan font-size="13.63">♭</tspan></text><text transform="translate(412.85,966.35) scale(0.76,1)" text-anchor="middle" font-size="14.06" fill="#161616" stroke="#161616" stroke-width="0.55" stroke-linejoin="round">B</text><text transform="translate(413.45,989.00) scale(0.76,1)" text-anchor="middle" font-size="13.04" fill="#161616" stroke="#161616" stroke-width="0.55" stroke-linejoin="round">C</text><text transform="translate(414.01,1010.49) scale(0.7448,1)" text-anchor="middle" font-size="13.01" fill="#161616" stroke="#161616" stroke-width="0.55" stroke-linejoin="round">C<tspan font-size="12.49">♯</tspan> D<tspan font-size="12.49">♭</tspan></text><text transform="translate(414.59,1032.48) scale(0.76,1)" text-anchor="middle" font-size="12.98" fill="#161616" stroke="#161616" stroke-width="0.55" stroke-linejoin="round">D</text><text transform="translate(415.13,1053.27) scale(0.7448,1)" text-anchor="middle" font-size="12.95" fill="#161616" stroke="#161616" stroke-width="0.55" stroke-linejoin="round">D<tspan font-size="12.43">♯</tspan> E<tspan font-size="12.43">♭</tspan></text><text transform="translate(415.61,1071.46) scale(0.76,1)" text-anchor="middle" font-size="12.91" fill="#161616" stroke="#161616" stroke-width="0.55" stroke-linejoin="round">E</text><text transform="translate(416.07,1089.14) scale(0.76,1)" text-anchor="middle" font-size="12.88" fill="#161616" stroke="#161616" stroke-width="0.55" stroke-linejoin="round">F</text><text transform="translate(416.48,1104.83) scale(0.7448,1)" text-anchor="middle" font-size="12.85" fill="#161616" stroke="#161616" stroke-width="0.55" stroke-linejoin="round">F<tspan font-size="12.34">♯</tspan> G<tspan font-size="12.34">♭</tspan></text><text transform="translate(416.88,1119.92) scale(0.76,1)" text-anchor="middle" font-size="12.82" fill="#161616" stroke="#161616" stroke-width="0.55" stroke-linejoin="round">G</text><text transform="translate(417.26,1134.41) scale(0.7448,1)" text-anchor="middle" font-size="12.79" fill="#161616" stroke="#161616" stroke-width="0.55" stroke-linejoin="round">G<tspan font-size="12.27">♯</tspan> A<tspan font-size="12.27">♭</tspan></text><text transform="translate(417.70,1151.10) scale(0.76,1)" text-anchor="middle" font-size="12.75" fill="#161616" stroke="#161616" stroke-width="0.55" stroke-linejoin="round">A</text></g>
<circle cx="316.8" cy="442.2" r="12.3" fill="none" stroke="#c9efea" stroke-width="5.5" opacity="0.8"/>
<circle cx="316.8" cy="442.2" r="12.3" fill="none" stroke="#4ac2b8" stroke-width="2.4"/>
<circle cx="314.0" cy="545.7" r="12.3" fill="none" stroke="#c9efea" stroke-width="5.5" opacity="0.8"/>
<circle cx="314.0" cy="545.7" r="12.3" fill="none" stroke="#4ac2b8" stroke-width="2.4"/>
<circle cx="307.2" cy="821.0" r="12.3" fill="none" stroke="#c9efea" stroke-width="5.5" opacity="0.8"/>
<circle cx="307.2" cy="821.0" r="12.3" fill="none" stroke="#4ac2b8" stroke-width="2.4"/>
<circle cx="302.3" cy="1006.0" r="11.5" fill="none" stroke="#c9efea" stroke-width="5.5" opacity="0.8"/>
<circle cx="302.3" cy="1006.0" r="11.5" fill="none" stroke="#4ac2b8" stroke-width="2.4"/>
<circle cx="417.7" cy="1147.3" r="11.4" fill="none" stroke="#c9efea" stroke-width="5.5" opacity="0.8"/>
<circle cx="417.7" cy="1147.3" r="11.4" fill="none" stroke="#4ac2b8" stroke-width="2.4"/>
<text transform="translate(139.60,133.00) scale(1.0042,1)" fill="#2f2f2f"><tspan font-size="24.64">G3 N</tspan><tspan font-size="18.72">OTE</tspan></text>
<text transform="translate(162.00,186.70) scale(1.0124,1)" fill="#2f2f2f"><tspan font-size="24.64">D4 N</tspan><tspan font-size="18.72">OTE</tspan></text>
<text transform="translate(478.40,133.00) scale(0.9896,1)" fill="#2f2f2f"><tspan font-size="24.64">E5 N</tspan><tspan font-size="18.72">OTE</tspan></text>
<text transform="translate(460.00,186.70) scale(1.0250,1)" fill="#2f2f2f"><tspan font-size="24.64">A4 N</tspan><tspan font-size="18.72">OTE</tspan></text>
<text transform="translate(131.60,400.70) scale(1.0009,1)" fill="#2f2f2f"><tspan font-size="24.64">M</tspan><tspan font-size="18.72">IDDLE</tspan><tspan font-size="24.64"> C</tspan></text>
<text transform="translate(144.70,582.50) scale(1.0071,1)" fill="#2f2f2f"><tspan font-size="24.64">D4 N</tspan><tspan font-size="18.72">OTE</tspan></text>
<text transform="translate(129.00,827.30) scale(1.0143,1)" fill="#2f2f2f"><tspan font-size="24.64">A4 N</tspan><tspan font-size="18.72">OTE</tspan></text>
<text transform="translate(125.50,1012.70) scale(0.9746,1)" fill="#2f2f2f"><tspan font-size="24.64">E5 N</tspan><tspan font-size="18.72">OTE</tspan></text>
<text transform="translate(470.50,1123.00) scale(1.0296,1)" fill="#2f2f2f"><tspan font-size="23.91">A7 N</tspan><tspan font-size="18.17">OTE</tspan></text>
<text transform="translate(130.00,253.50) scale(0.9158,1)" fill="#303030" stroke="#fdfdfd" stroke-width="0.5"><tspan font-size="30.43">3</tspan><tspan font-size="23.13">RD</tspan><tspan font-size="30.43"> O</tspan><tspan font-size="23.13">CTAVE</tspan></text>
<text transform="translate(165.50,281.40) scale(0.8651,1)" fill="#303030" stroke="#fdfdfd" stroke-width="0.5"><tspan font-size="30.43">N</tspan><tspan font-size="23.13">OTES</tspan></text>
<text transform="translate(445.50,317.30) scale(0.9175,1)" fill="#303030" stroke="#fdfdfd" stroke-width="0.5"><tspan font-size="30.43">5</tspan><tspan font-size="23.13">TH</tspan><tspan font-size="30.43"> O</tspan><tspan font-size="23.13">CTAVE</tspan></text>
<text transform="translate(480.00,346.50) scale(0.8698,1)" fill="#303030" stroke="#fdfdfd" stroke-width="0.5"><tspan font-size="30.43">N</tspan><tspan font-size="23.13">OTES</tspan></text>
<text transform="translate(122.90,462.50) scale(0.9233,1)" fill="#303030" stroke="#fdfdfd" stroke-width="0.5"><tspan font-size="30.43">4</tspan><tspan font-size="23.13">TH</tspan><tspan font-size="30.43"> O</tspan><tspan font-size="23.13">CTAVE</tspan></text>
<text transform="translate(156.40,491.60) scale(0.8769,1)" fill="#303030" stroke="#fdfdfd" stroke-width="0.5"><tspan font-size="30.43">N</tspan><tspan font-size="23.13">OTES</tspan></text>
<text transform="translate(109.00,898.70) scale(0.9168,1)" fill="#303030" stroke="#fdfdfd" stroke-width="0.5"><tspan font-size="30.43">5</tspan><tspan font-size="23.13">TH</tspan><tspan font-size="30.43"> O</tspan><tspan font-size="23.13">CTAVE</tspan></text>
<text transform="translate(143.00,927.70) scale(0.8710,1)" fill="#303030" stroke="#fdfdfd" stroke-width="0.5"><tspan font-size="30.43">N</tspan><tspan font-size="23.13">OTES</tspan></text>
<text transform="translate(460.70,812.40) scale(0.9253,1)" fill="#303030" stroke="#fdfdfd" stroke-width="0.5"><tspan font-size="30.43">6</tspan><tspan font-size="23.13">TH</tspan><tspan font-size="30.43"> O</tspan><tspan font-size="23.13">CTAVE</tspan></text>
<text transform="translate(495.00,842.10) scale(0.8828,1)" fill="#303030" stroke="#fdfdfd" stroke-width="0.5"><tspan font-size="30.43">N</tspan><tspan font-size="23.13">OTES</tspan></text>
<text transform="translate(467.00,997.70) scale(0.9181,1)" fill="#303030" stroke="#fdfdfd" stroke-width="0.5"><tspan font-size="30.43">7</tspan><tspan font-size="23.13">TH</tspan><tspan font-size="30.43"> O</tspan><tspan font-size="23.13">CTAVE</tspan></text>
<text transform="translate(501.00,1026.70) scale(0.8757,1)" fill="#303030" stroke="#fdfdfd" stroke-width="0.5"><tspan font-size="30.43">N</tspan><tspan font-size="23.13">OTES</tspan></text>
<line x1="121" y1="293" x2="287.6" y2="293" stroke="#4ac2b8" stroke-width="2.8"/>
<path d="M305 293 L276.0 281.5 L284.1 293 L276.0 304.5 Z" fill="#4ac2b8"/>
<line x1="595" y1="357.5" x2="429.4" y2="357.5" stroke="#4ac2b8" stroke-width="2.8"/>
<path d="M412 357.5 L441.0 346.0 L432.9 357.5 L441.0 369.0 Z" fill="#4ac2b8"/>
<line x1="112" y1="503" x2="280.6" y2="503" stroke="#4ac2b8" stroke-width="2.8"/>
<path d="M298 503 L269.0 491.5 L277.1 503 L269.0 514.5 Z" fill="#4ac2b8"/>
<line x1="99" y1="939" x2="265.1" y2="939" stroke="#4ac2b8" stroke-width="2.8"/>
<path d="M282.5 939 L253.5 927.5 L261.6 939 L253.5 950.5 Z" fill="#4ac2b8"/>
<line x1="611.4" y1="853" x2="446.4" y2="853" stroke="#4ac2b8" stroke-width="2.8"/>
<path d="M429 853 L458.0 841.5 L449.9 853 L458.0 864.5 Z" fill="#4ac2b8"/>
<line x1="617" y1="1038" x2="452.4" y2="1038" stroke="#4ac2b8" stroke-width="2.8"/>
<path d="M435 1038 L464.0 1026.5 L455.9 1038 L464.0 1049.5 Z" fill="#4ac2b8"/>
<line x1="245" y1="126.5" x2="305.4" y2="126.5" stroke="#333" stroke-width="1.4"/>
<path d="M315.0 126.5 L299.0 121.1 L303.8 126.5 L299.0 131.9 Z" fill="#333"/>
<line x1="471" y1="126.5" x2="410.6" y2="126.5" stroke="#333" stroke-width="1.4"/>
<path d="M401.0 126.5 L417.0 131.9 L412.2 126.5 L417.0 121.1 Z" fill="#333"/>
<line x1="264.5" y1="182" x2="335.2" y2="140.8" stroke="#333" stroke-width="1.4"/>
<path d="M343.5 136.0 L327.0 139.4 L333.8 141.6 L332.4 148.7 Z" fill="#333"/>
<line x1="452.2" y1="181" x2="380.9" y2="140.7" stroke="#333" stroke-width="1.4"/>
<path d="M372.5 136.0 L383.8 148.6 L382.3 141.5 L389.1 139.2 Z" fill="#333"/>
<line x1="241.8" y1="403" x2="291.6" y2="429.9" stroke="#333" stroke-width="1.4"/>
<path d="M300.0 434.5 L288.5 422.1 L290.2 429.2 L283.4 431.6 Z" fill="#333"/>
<line x1="247" y1="578" x2="289.8" y2="552.0" stroke="#333" stroke-width="1.4"/>
<path d="M298.0 547.0 L281.5 550.7 L288.4 552.8 L287.1 559.9 Z" fill="#333"/>
<line x1="233.8" y1="821.8" x2="280.9" y2="821.8" stroke="#333" stroke-width="1.4"/>
<path d="M290.5 821.8 L274.5 816.4 L279.3 821.8 L274.5 827.2 Z" fill="#333"/>
<line x1="226.5" y1="1008.4" x2="274.4" y2="1008.4" stroke="#333" stroke-width="1.4"/>
<path d="M284.0 1008.4 L268.0 1003.0 L272.8 1008.4 L268.0 1013.8 Z" fill="#333"/>
<line x1="464.6" y1="1127" x2="438.7" y2="1139.4" stroke="#333" stroke-width="1.4"/>
<path d="M430.0 1143.5 L446.8 1141.5 L440.1 1138.7 L442.1 1131.7 Z" fill="#333"/>
<text transform="translate(444.5,513.8) scale(0.7007,1)" font-size="70.29" font-weight="bold" fill="#393939" stroke="#393939" stroke-width="0.9">All Violin</text>
<text transform="translate(486.8,580.6) scale(0.6664,1)" font-size="69.57" font-weight="bold" fill="#393939" stroke="#393939" stroke-width="0.9">Notes</text>
</svg></body></html>
